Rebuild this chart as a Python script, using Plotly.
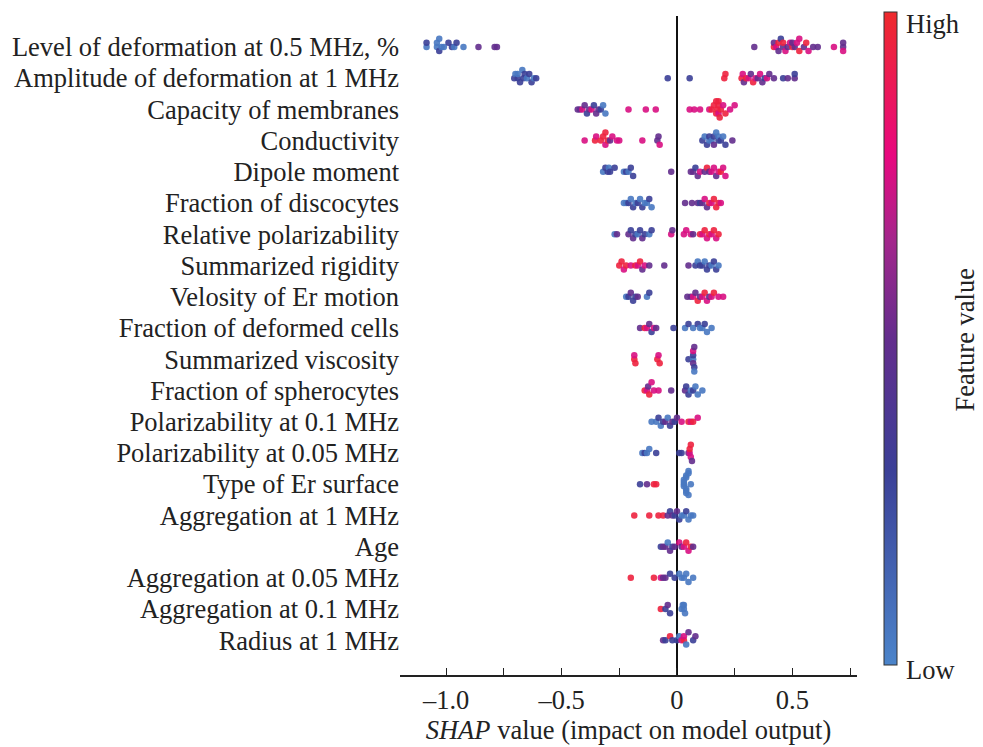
import numpy as np
import plotly.graph_objects as go

# colour codes for feature value (0 = low, 1 = high)
B, N, P, M, R = 0.05, 0.3, 0.5, 0.75, 0.95

features = [
    "Level of deformation at 0.5 MHz, %",
    "Amplitude of deformation at 1 MHz",
    "Capacity of membranes",
    "Conductivity",
    "Dipole moment",
    "Fraction of discocytes",
    "Relative polarizability",
    "Summarized rigidity",
    "Velosity of Er motion",
    "Fraction of deformed cells",
    "Summarized viscosity",
    "Fraction of spherocytes",
    "Polarizability at 0.1 MHz",
    "Polarizability at 0.05 MHz",
    "Type of Er surface",
    "Aggregation at 1 MHz",
    "Age",
    "Aggregation at 0.05 MHz",
    "Aggregation at 0.1 MHz",
    "Radius at 1 MHz",
]

shap_level = [-1.085, -1.085, -1.04, -1.04, -1.03, -1.03, -1.02, -1.01, -0.99, -0.975, -0.965, -0.955, -0.925, -0.86, -0.79, -0.78,
              0.335, 0.42, 0.42, 0.43, 0.44, 0.44, 0.45, 0.46, 0.46, 0.47, 0.48, 0.49, 0.50, 0.50, 0.51, 0.52, 0.53, 0.53, 0.55, 0.56, 0.57, 0.59, 0.61, 0.68, 0.72, 0.72, 0.72]
feat_level = [B, N, B, B, N, B, B, B, N, N, B, N, B, P, P, P,
              P, R, P, M, R, P, N, P, R, M, P, M, R, P, P, M, R, M, P, R, M, P, P, M, P, P, M]

shap_ampl = [-0.705, -0.70, -0.69, -0.69, -0.68, -0.67, -0.665, -0.66, -0.65, -0.64, -0.63, -0.62, -0.61, -0.04, 0.055,
             0.205, 0.21, 0.28, 0.285, 0.29, 0.30, 0.31, 0.32, 0.33, 0.34, 0.35, 0.36, 0.37, 0.38, 0.39, 0.40, 0.42, 0.46, 0.48, 0.51, 0.51]
feat_ampl = [N, B, N, B, N, B, N, N, B, N, N, B, N, N, N,
             R, R, R, M, P, R, M, P, R, M, P, M, P, N, M, P, P, N, P, P, N]

shap_capac = [-0.43, -0.42, -0.41, -0.40, -0.39, -0.38, -0.37, -0.36, -0.35, -0.34, -0.33, -0.32, -0.31, -0.21, -0.135, -0.092,
              0.055, 0.075, 0.10, 0.14, 0.15, 0.16, 0.17, 0.17, 0.175, 0.18, 0.18, 0.18, 0.185, 0.19, 0.20, 0.21, 0.23, 0.25]
feat_capac = [P, P, M, P, N, P, M, N, P, P, N, B, B, M, M, M,
              M, M, M, M, R, R, R, R, R, R, M, R, R, R, M, R, M, M]

shap_cond = [-0.40, -0.355, -0.35, -0.33, -0.32, -0.31, -0.31, -0.30, -0.29, -0.28, -0.26, -0.25, -0.15, -0.085, -0.08, -0.075,
             0.11, 0.12, 0.13, 0.14, 0.14, 0.15, 0.16, 0.16, 0.17, 0.18, 0.18, 0.19, 0.20, 0.21, 0.24]
feat_cond = [M, R, M, R, R, M, R, R, P, M, M, M, M, P, P, M,
             N, B, N, B, N, B, N, P, B, N, B, N, B, N, P]

shap_dipole = [-0.32, -0.31, -0.30, -0.295, -0.29, -0.27, -0.23, -0.22, -0.21, -0.20, -0.19, -0.025,
               0.06, 0.07, 0.08, 0.09, 0.10, 0.12, 0.13, 0.14, 0.15, 0.16, 0.17, 0.18, 0.19, 0.20, 0.21]
feat_dipole = [B, N, N, B, N, N, B, N, B, N, N, P,
               P, P, N, P, M, P, R, P, M, M, P, M, R, M, M]

shap_disco = [-0.23, -0.22, -0.21, -0.20, -0.19, -0.18, -0.17, -0.16, -0.15, -0.14, -0.13, -0.12, -0.11,
              0.035, 0.065, 0.09, 0.10, 0.11, 0.12, 0.13, 0.14, 0.15, 0.16, 0.17, 0.18, 0.19]
feat_disco = [B, B, N, B, N, B, N, B, N, B, B, N, B,
              P, P, P, N, P, M, P, R, M, R, R, R, M]

shap_relpol = [-0.27, -0.26, -0.21, -0.20, -0.19, -0.18, -0.17, -0.16, -0.15, -0.14, -0.12, -0.11, -0.025, -0.02,
               0.03, 0.04, 0.06, 0.07, 0.10, 0.11, 0.12, 0.13, 0.14, 0.15, 0.16, 0.17, 0.18]
feat_relpol = [B, P, P, N, P, N, B, N, P, N, B, N, M, P,
               M, M, M, P, R, M, R, M, R, M, R, M, R]

shap_rigid = [-0.25, -0.24, -0.23, -0.22, -0.20, -0.18, -0.17, -0.16, -0.15, -0.14, -0.12, -0.055,
              0.05, 0.08, 0.09, 0.10, 0.11, 0.12, 0.13, 0.14, 0.15, 0.16, 0.17, 0.18]
feat_rigid = [R, R, M, R, M, R, M, R, P, M, P, P,
              P, N, B, N, N, B, N, N, B, N, N, B]

shap_velos = [-0.22, -0.21, -0.20, -0.19, -0.18, -0.17, -0.13, -0.12,
              0.045, 0.06, 0.07, 0.08, 0.09, 0.10, 0.11, 0.12, 0.13, 0.14, 0.15, 0.16, 0.18, 0.20]
feat_velos = [B, N, P, N, N, P, B, N,
              P, P, M, P, R, P, M, R, M, P, M, R, M, M]

shap_deform = [-0.16, -0.14, -0.13, -0.12, -0.11, -0.10, -0.09, -0.015,
               0.035, 0.05, 0.07, 0.09, 0.10, 0.11, 0.12, 0.13, 0.15]
feat_deform = [P, R, M, P, N, M, P, N,
               B, N, B, N, B, B, N, B, B]

shap_visc = [-0.185, -0.185, -0.18, -0.085, -0.08, -0.075, 0.05,
             0.07, 0.07, 0.07, 0.07, 0.075, 0.075, 0.075]
feat_visc = [R, M, R, R, M, R, N,
             B, N, P, M, N, P, B]

shap_sphero = [-0.14, -0.13, -0.125, -0.12, -0.11, -0.10, -0.08, -0.025,
               0.035, 0.04, 0.05, 0.06, 0.07, 0.08, 0.09, 0.11]
feat_sphero = [R, M, P, R, M, M, M, P,
               P, N, N, B, N, B, B, B]

shap_pol01 = [-0.11, -0.09, -0.08, -0.07, -0.06, -0.05, -0.04, -0.03, -0.02, -0.01, 0.0,
              0.02, 0.05, 0.06, 0.07, 0.09]
feat_pol01 = [B, B, N, B, N, P, B, N, P, N, P,
              M, R, M, R, M]

shap_pol005 = [-0.15, -0.14, -0.13, -0.12, -0.09, 0.01, 0.02,
               0.05, 0.055, 0.055, 0.06, 0.06, 0.065]
feat_pol005 = [B, N, B, B, N, N, N,
               P, M, R, M, R, P]

shap_surface = [-0.16, -0.13, -0.10, -0.09,
                0.03, 0.03, 0.03, 0.03, 0.04, 0.04, 0.04, 0.04, 0.04, 0.05, 0.05, 0.05, 0.06]
feat_surface = [N, P, R, R,
                B, B, B, B, B, B, B, B, B, B, B, B, B]

shap_agg1 = [-0.185, -0.12, -0.08, -0.06, -0.04, -0.03, -0.02, -0.01, 0.0,
             0.01, 0.02, 0.03, 0.04, 0.05, 0.06, 0.07]
feat_agg1 = [R, R, R, R, P, N, P, N, P,
             N, B, B, N, B, B, B]

shap_age = [-0.07, -0.06, -0.05, -0.04, -0.03, -0.02, -0.01,
            0.01, 0.02, 0.03, 0.04, 0.05, 0.06, 0.07]
feat_age = [N, P, P, B, P, N, P,
            M, P, M, R, M, R, P]

shap_agg005 = [-0.20, -0.10, -0.07, -0.06, -0.05, -0.03, -0.01,
               0.01, 0.02, 0.03, 0.04, 0.05, 0.07]
feat_agg005 = [R, R, M, P, P, N, N,
               B, B, B, B, B, B]

shap_agg01 = [-0.07, -0.05, -0.04, -0.03, 0.02, 0.025, 0.03, 0.03, 0.035]
feat_agg01 = [R, N, P, N, B, B, B, B, B]

shap_radius = [-0.06, -0.05, -0.03, -0.02, 0.0,
               0.01, 0.02, 0.03, 0.03, 0.04, 0.05, 0.07, 0.08]
feat_radius = [P, N, R, N, N,
               B, M, R, M, B, P, N, P]

shap_rows = [shap_level, shap_ampl, shap_capac, shap_cond, shap_dipole, shap_disco, shap_relpol,
             shap_rigid, shap_velos, shap_deform, shap_visc, shap_sphero, shap_pol01, shap_pol005,
             shap_surface, shap_agg1, shap_age, shap_agg005, shap_agg01, shap_radius]
feat_rows = [feat_level, feat_ampl, feat_capac, feat_cond, feat_dipole, feat_disco, feat_relpol,
             feat_rigid, feat_velos, feat_deform, feat_visc, feat_sphero, feat_pol01, feat_pol005,
             feat_surface, feat_agg1, feat_age, feat_agg005, feat_agg01, feat_radius]

x_tickvals = [-1.0, -0.75, -0.5, -0.25, 0.0, 0.25, 0.5, 0.75]
x_ticktext = ["–1.0", "", "–0.5", "", "0", "", "0.5", ""]

colorscale = [[0.0, "#4b84ca"], [0.3, "#3b3f97"], [0.5, "#632d8d"],
              [0.65, "#a3268c"], [0.78, "#e8087f"], [1.0, "#ee2a2c"]]

FONT = "Liberation Serif, Times New Roman, serif"
FS = 26.5


def swarm_offsets(vals, step=0.02, layer_h=0.13, max_h=0.42):
    vals = np.asarray(vals, float)
    q = np.round(vals / step)
    order = np.argsort(q, kind="stable")
    ys = np.zeros(len(vals))
    last = None
    layer = 0
    for i in order:
        if q[i] != last:
            layer = 0
        ys[i] = np.ceil(layer / 2) * ((layer % 2) * 2 - 1)
        layer += 1
        last = q[i]
    m = np.abs(ys).max()
    scale = layer_h if m == 0 else min(layer_h, max_h / m)
    return ys * scale


n = len(features)
fig = go.Figure()
all_x, all_y, all_c = [], [], []
for i, (sv, fv) in enumerate(zip(shap_rows, feat_rows)):
    pos = n - 1 - i
    off = swarm_offsets(sv)
    all_x.extend(sv)
    all_y.extend(list(pos + off))
    all_c.extend(fv)

L, Rm, T, Bm = 398, 126, 12, 72
W_plot = 983 - L - Rm
H_plot = 747 - T - Bm


def px(xp):
    return (xp - L) / W_plot


def py(yp):
    return (747 - Bm - yp) / H_plot


fig.add_trace(go.Scatter(
    x=all_x, y=all_y, mode="markers",
    marker=dict(size=6.5, color=all_c, colorscale=colorscale, cmin=0, cmax=1,
                opacity=0.9, line=dict(width=0),
                showscale=True,
                colorbar=dict(thickness=13, len=653, lenmode="pixels",
                              x=px(884), xanchor="left", xpad=0,
                              y=py(336.5), yanchor="middle", ypad=0,
                              outlinewidth=1, outlinecolor="#333",
                              showticklabels=False, ticks="")),
    hoverinfo="skip", showlegend=False,
))

fig.update_layout(
    width=983, height=747,
    margin=dict(l=L, r=Rm, t=T, b=Bm),
    plot_bgcolor="white", paper_bgcolor="white",
    font=dict(family=FONT, size=FS, color="#222"),
    xaxis=dict(range=[-1.2, 0.78], tickvals=x_tickvals, ticktext=x_ticktext,
               ticks="inside", ticklen=7, tickwidth=1.2, tickcolor="#222",
               showline=True, linecolor="#222", linewidth=1.5,
               showgrid=False, zeroline=True, zerolinecolor="#111", zerolinewidth=2,
               tickfont=dict(family=FONT, size=FS, color="#222"),
               title=dict(text="<i>SHAP</i> value (impact on model output)",
                          font=dict(family=FONT, size=FS, color="#222"), standoff=2)),
    yaxis=dict(range=[-1.11, 19.99], tickvals=list(range(n)), ticktext=features[::-1],
               showline=False, showgrid=False, zeroline=False, ticks="",
               tickfont=dict(family=FONT, size=FS, color="#222")),
)

fig.add_annotation(text="High", x=px(904), y=py(20), xref="paper", yref="paper",
                   xanchor="left", yanchor="middle", showarrow=False,
                   font=dict(family=FONT, size=FS, color="#222"))
fig.add_annotation(text="Low", x=px(904), y=py(670), xref="paper", yref="paper",
                   xanchor="left", yanchor="middle", showarrow=False,
                   font=dict(family=FONT, size=FS, color="#222"))
fig.add_annotation(text="Feature value", x=px(966), y=py(338), xref="paper", yref="paper",
                   xanchor="center", yanchor="middle", textangle=-90, showarrow=False,
                   font=dict(family=FONT, size=FS, color="#222"))

fig.write_html("out.html")
